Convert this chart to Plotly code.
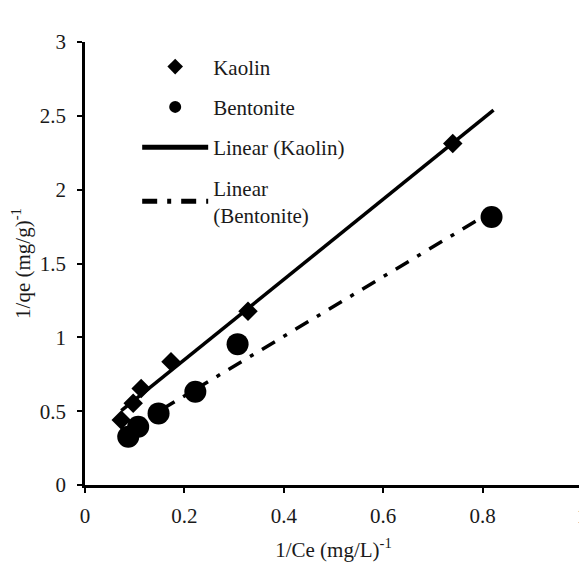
import numpy as np
import plotly.graph_objects as go

# ---- data ----
kaolin_x = [0.073, 0.097, 0.113, 0.173, 0.328, 0.740]
kaolin_y = [0.440, 0.553, 0.654, 0.834, 1.177, 2.312]
bentonite_x = [0.087, 0.107, 0.148, 0.222, 0.307, 0.818]
bentonite_y = [0.327, 0.394, 0.485, 0.631, 0.954, 1.815]
kaolin_trend_range = [0.073, 0.822]
bentonite_trend_range = [0.087, 0.818]
x_ticks = [0, 0.2, 0.4, 0.6, 0.8, 1]
y_ticks = [0, 0.5, 1, 1.5, 2, 2.5, 3]

FONT = "Times New Roman, Liberation Serif, DejaVu Serif, serif"
TXT = "#1a1a1a"
FS = 21

k_fit = np.polyfit(kaolin_x, kaolin_y, 1)
b_fit = np.polyfit(bentonite_x, bentonite_y, 1)
kx = np.array(kaolin_trend_range)
bx = np.array(bentonite_trend_range)

fig = go.Figure()
fig.add_trace(go.Scatter(
    x=kaolin_x, y=kaolin_y, mode="markers", name="Kaolin",
    marker=dict(symbol="diamond", size=15, color="black"),
    legendgroup="a"))
fig.add_trace(go.Scatter(
    x=bentonite_x, y=bentonite_y, mode="markers", name="Bentonite",
    marker=dict(symbol="circle", size=22, color="black"),
    legendgroup="b"))
fig.add_trace(go.Scatter(
    x=kx, y=np.polyval(k_fit, kx), mode="lines", name="Linear (Kaolin)",
    line=dict(color="black", width=3.5), legendgroup="c"))
fig.add_trace(go.Scatter(
    x=bx, y=np.polyval(b_fit, bx), mode="lines", name="Linear<br>(Bentonite)",
    line=dict(color="black", width=3.5, dash="15px,10px,4px,10px"),
    legendgroup="d"))

axis_common = dict(
    showline=True, linecolor="black", linewidth=2.5, mirror=False,
    ticks="outside", ticklen=5, tickwidth=2, tickcolor="black",
    showgrid=False, zeroline=False, automargin=False,
    ticklabeloverflow="allow",
    tickfont=dict(family=FONT, size=FS, color=TXT),
)

# the page body adds an 8 px offset; the figure is sized to fill the rest
fig.update_layout(
    width=579, height=554,
    margin=dict(l=77, r=5, t=34, b=77),
    paper_bgcolor="white", plot_bgcolor="white",
    font=dict(family=FONT, size=FS, color=TXT),
    xaxis=dict(range=[0, 1], tickvals=x_ticks, ticklabelstandoff=5,
               title=dict(text="1/Ce (mg/L)<sup>-1</sup>",
                          font=dict(family=FONT, size=FS, color=TXT), standoff=16),
               **axis_common),
    yaxis=dict(range=[0, 3], tickvals=y_ticks, ticklabelstandoff=7,
               title=dict(text="1/qe (mg/g)<sup>-1</sup>",
                          font=dict(family=FONT, size=FS, color=TXT), standoff=6),
               **axis_common),
    legend=dict(x=0.105, y=0.99, xanchor="left", yanchor="top",
                bgcolor="rgba(0,0,0,0)", itemsizing="constant", itemwidth=66,
                tracegroupgap=10, font=dict(family=FONT, size=FS, color=TXT)),
    showlegend=True,
)

fig.write_html("out.html")
